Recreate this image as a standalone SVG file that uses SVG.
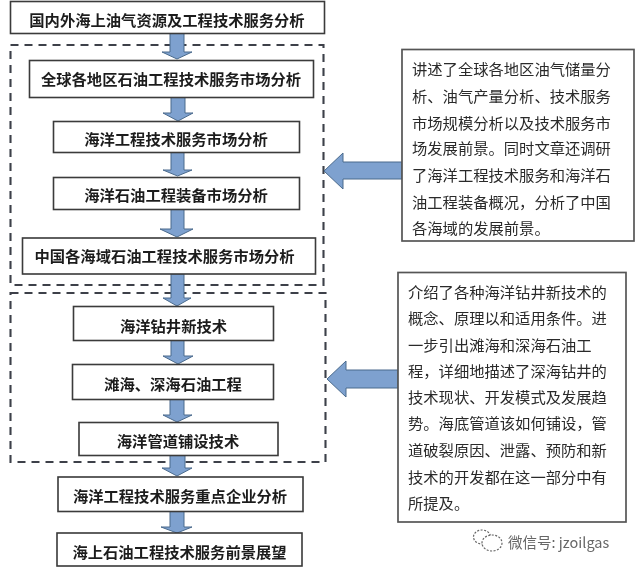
<svg xmlns="http://www.w3.org/2000/svg" width="640" height="571" viewBox="0 0 640 571">
<defs>
<style>
.box{fill:#fff;stroke:#3a3a3a;stroke-width:1.6}
.note{fill:#fff;stroke:#555;stroke-width:1.7}
.dash{fill:none;stroke:#3c4148;stroke-width:2.1;stroke-dasharray:8 6}
.arr{fill:#7ea1cf;stroke:#4a6a8c;stroke-width:1}
text{font-family:"Noto Sans CJK SC","Noto Sans",sans-serif}
.t{font-size:15.3px;font-weight:700;fill:#1e1e1e;text-anchor:middle;dominant-baseline:central;transform:translateY(-1px)}
.n{font-size:15.3px;font-weight:400;fill:#2a2a2a;dominant-baseline:central;transform:translateY(-1px)}
.w{font-size:14.500px;fill:#666;dominant-baseline:central}
.wi{fill:#fff;stroke:#666;stroke-width:1.2;stroke-dasharray:2 1.5}
</style>
<filter id="soft" x="-5%" y="-5%" width="110%" height="110%"><feGaussianBlur stdDeviation="0.35"/></filter>
</defs>
<rect width="640" height="571" fill="#fff"/>
<g filter="url(#soft)">
<g id="groups">
<rect class="dash" x="10.500" y="45" width="313" height="240"/>
<rect class="dash" x="10.500" y="293" width="315" height="169"/>
</g>
<g id="connectors">
<path class="arr" d="M170 33H184V52H192L177 59L162 52H170Z"/>
<path class="arr" d="M171 97H185V113H193L178 121L163 113H171Z"/>
<path class="arr" d="M171 152H184V170H192L177.500 176L163 170H171Z"/>
<path class="arr" d="M171 209H184V229H193L177 237L160 229H171Z"/>
<path class="arr" d="M171 274H184V298H191L177 306L163 298H171Z"/>
<path class="arr" d="M171 340H184V356H193L178 364L163 356H171Z"/>
<path class="arr" d="M170 399H184V415H192L177 422L163 415H170Z"/>
<path class="arr" d="M170 455H185V468H192L177 476L162 468H170Z"/>
<path class="arr" d="M170 511H184V527H192L177 533L161 527H170Z"/>
<path class="arr" d="M402 162H343V153L324 171L343 189V179H402Z"/>
<path class="arr" d="M398 370H346V361L327 379L346 397V388H398Z"/>
</g>
<g id="n1"><rect class="box" x="10.500" y="1.500" width="314" height="32"/><text class="t" x="167" y="20">国内外海上油气资源及工程技术服务分析</text></g>
<g id="n2"><rect class="box" x="29.500" y="60.500" width="284" height="37"/><text class="t" x="171" y="79">全球各地区石油工程技术服务市场分析</text></g>
<g id="n3"><rect class="box" x="53.500" y="121.500" width="246" height="31"/><text class="t" x="176" y="139">海洋工程技术服务市场分析</text></g>
<g id="n4"><rect class="box" x="53.500" y="177.500" width="246" height="32"/><text class="t" x="176" y="195">海洋石油工程装备市场分析</text></g>
<g id="n5"><rect class="box" x="22.500" y="238" width="293" height="36"/><text class="t" x="164.500" y="256">中国各海域石油工程技术服务市场分析</text></g>
<g id="n6"><rect class="box" x="73.500" y="306.500" width="200" height="34"/><text class="t" x="173.500" y="326">海洋钻井新技术</text></g>
<g id="n7"><rect class="box" x="72.500" y="364.500" width="201" height="35"/><text class="t" x="173" y="384">滩海、深海石油工程</text></g>
<g id="n8"><rect class="box" x="79" y="422.500" width="199" height="33"/><text class="t" x="178" y="441">海洋管道铺设技术</text></g>
<g id="n9"><rect class="box" x="58" y="477" width="245" height="34.500"/><text class="t" x="180" y="496">海洋工程技术服务重点企业分析</text></g>
<g id="n10"><rect class="box" x="57" y="533" width="245" height="33"/><text class="t" x="179.500" y="552">海上石油工程技术服务前景展望</text></g>
<g id="note1"><rect class="note" x="402" y="49.500" width="232" height="191.500"/>
<text class="n" x="412" y="69">讲述了全球各地区油气储量分</text>
<text class="n" x="412" y="96">析、油气产量分析、技术服务</text>
<text class="n" x="412" y="123">市场规模分析以及技术服务市</text>
<text class="n" x="412" y="148">场发展前景。同时文章还调研</text>
<text class="n" x="412" y="175">了海洋工程技术服务和海洋石</text>
<text class="n" x="412" y="202">油工程装备概况，分析了中国</text>
<text class="n" x="412" y="228">各海域的发展前景。</text>
</g>
<g id="note2"><rect class="note" x="398" y="272.500" width="228" height="249.500"/>
<text class="n" x="408" y="292">介绍了各种海洋钻井新技术的</text>
<text class="n" x="408" y="318">概念、原理以和适用条件。进</text>
<text class="n" x="408" y="345">一步引出滩海和深海石油工</text>
<text class="n" x="408" y="371">程，详细地描述了深海钻井的</text>
<text class="n" x="408" y="397">技术现状、开发模式及发展趋</text>
<text class="n" x="408" y="423">势。海底管道该如何铺设，管</text>
<text class="n" x="408" y="450">道破裂原因、泄露、预防和新</text>
<text class="n" x="408" y="477">技术的开发都在这一部分中有</text>
<text class="n" x="408" y="503">所提及。</text>
</g>
<g id="watermark">
<ellipse class="wi" cx="482" cy="537" rx="8.500" ry="7"/>
<ellipse class="wi" cx="492" cy="543" rx="10" ry="8"/>
<text class="w" x="508" y="541">微信号: jzoilgas</text>
</g>
</g>
</svg>
